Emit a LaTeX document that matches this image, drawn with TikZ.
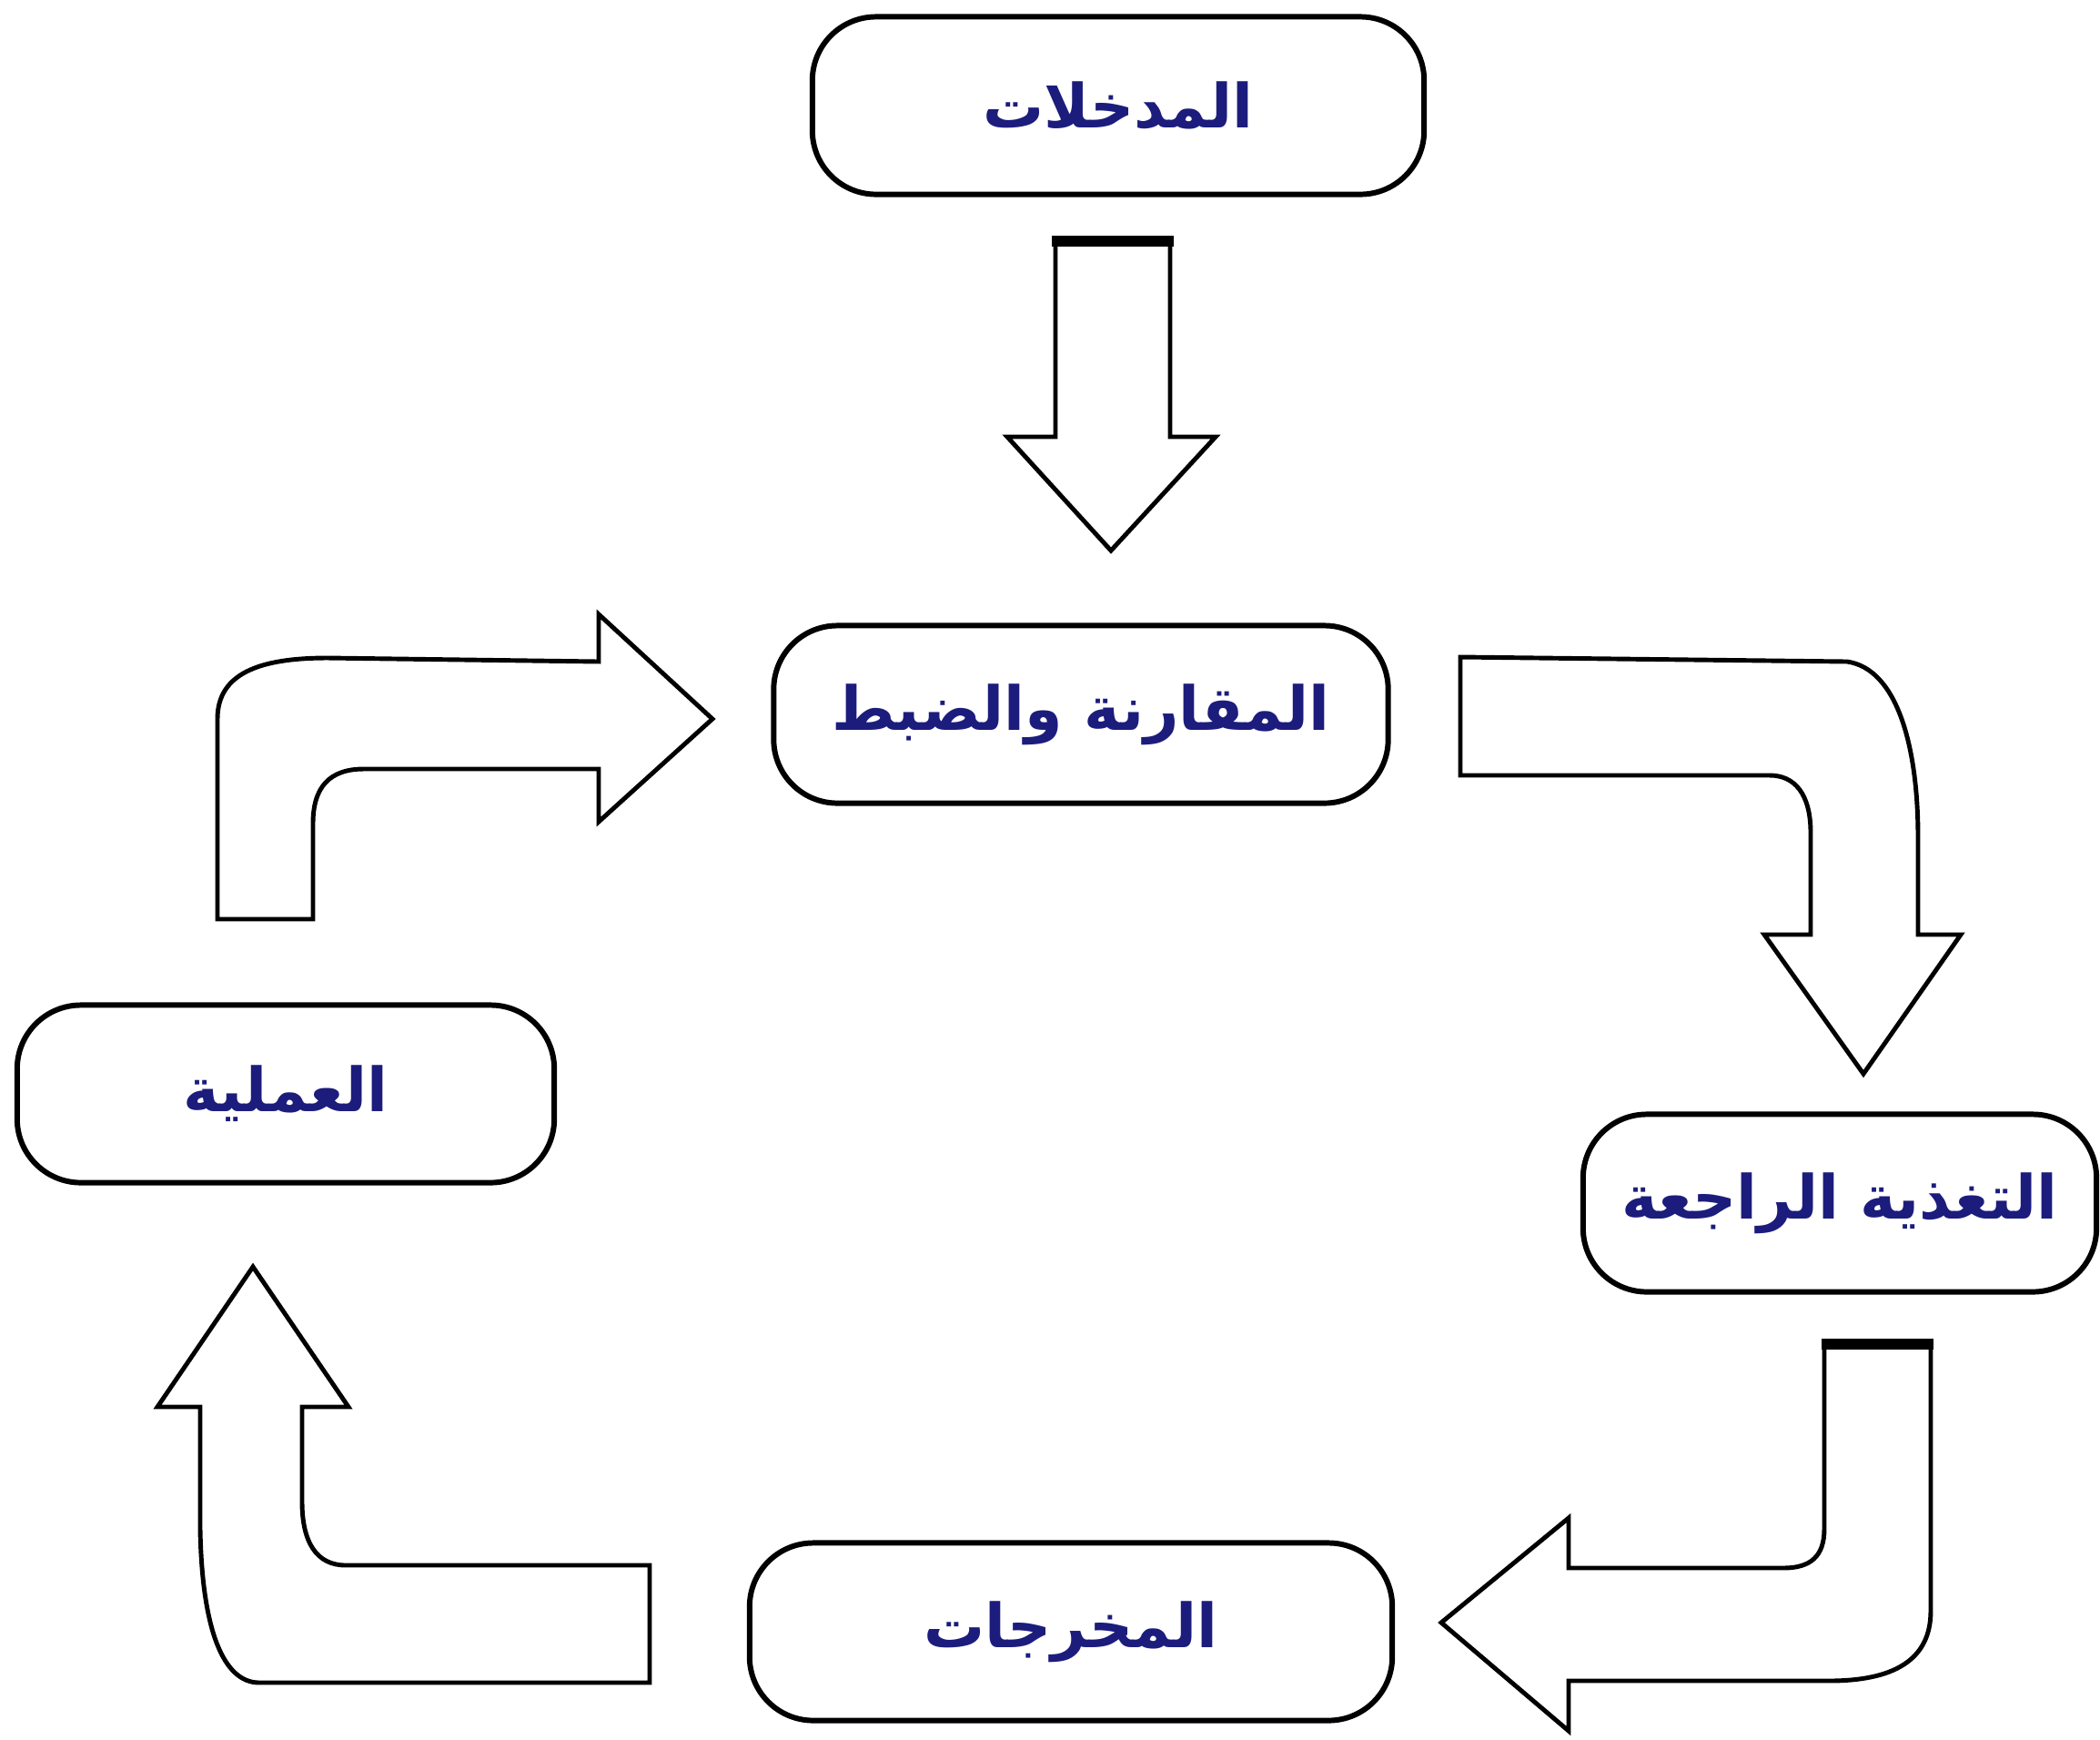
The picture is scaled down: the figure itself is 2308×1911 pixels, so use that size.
\documentclass[tikz,border=0pt]{standalone}
\usepackage{fontspec}
\newfontfamily\arabicfont[Script=Arabic]{DejaVu Sans}
\TeXXeTstate=1
\definecolor{labelblue}{RGB}{28,28,125}

\begin{document}
\begin{tikzpicture}[x=0.01cm, y=-0.01cm,
    stage/.style={draw, line width=1.7pt, rounded corners=0.7cm, fill=white, minimum height=1.95cm,
        font=\arabicfont\bfseries\fontsize{19}{23}\selectfont, text=labelblue},
    blockarrow/.style={draw, line width=1.4pt, fill=white, line join=miter}]

    \useasboundingbox (0,0) rectangle (2308,1911);

    \node[stage, minimum width=6.72cm] (inputs) at (1229,116) {\beginR المدخلات\endR};
    \node[stage, minimum width=6.75cm] (compare) at (1188,785) {\beginR المقارنة والضبط\endR};
    \node[stage, minimum width=5.90cm] (process) at (314,1202) {\beginR العملية\endR};
    \node[stage, minimum width=5.64cm] (feedback) at (2022,1322) {\beginR التغذية الراجعة\endR};
    \node[stage, minimum width=7.06cm] (outputs) at (1177,1793) {\beginR المخرجات\endR};

    \draw[blockarrow] (1160,265) -- (1286,265) -- (1286,480) -- (1336,480) -- (1221,605) -- (1107,480) -- (1160,480) -- cycle;
    \draw[line width=3.5pt] (1156,265) -- (1290,265);

    \draw[blockarrow] (239,1010) -- (239,790) .. controls (239,740) and (285,723) .. (360,723) -- (658,727) -- (658,675) -- (783,790) -- (658,903) -- (658,845) -- (400,845) .. controls (362,845) and (344,865) .. (344,905) -- (344,1010) -- cycle;

    \draw[blockarrow] (1605,722) -- (2030,727) .. controls (2085,735) and (2108,820) .. (2108,920) -- (2108,1027) -- (2155,1027) -- (2048,1180) -- (1939,1027) -- (1990,1027) -- (1990,915) .. controls (1990,872) and (1972,852) .. (1945,852) -- (1605,852) -- cycle;

    \draw[blockarrow] (2005,1477) -- (2122,1477) -- (2122,1770) .. controls (2122,1825) and (2080,1847) .. (2010,1847) -- (1724,1847) -- (1724,1902) -- (1584,1783) -- (1724,1668) -- (1724,1723) -- (1960,1723) .. controls (1990,1723) and (2005,1710) .. (2005,1680) -- cycle;
    \draw[line width=3.5pt] (2002,1477) -- (2125,1477);

    \draw[blockarrow] (714,1720) -- (380,1720) .. controls (348,1720) and (332,1695) .. (332,1650) -- (332,1546) -- (383,1546) -- (278,1392) -- (173,1546) -- (220,1546) -- (220,1680) .. controls (222,1790) and (245,1849) .. (285,1849) -- (714,1849) -- cycle;

\end{tikzpicture}
\end{document}
